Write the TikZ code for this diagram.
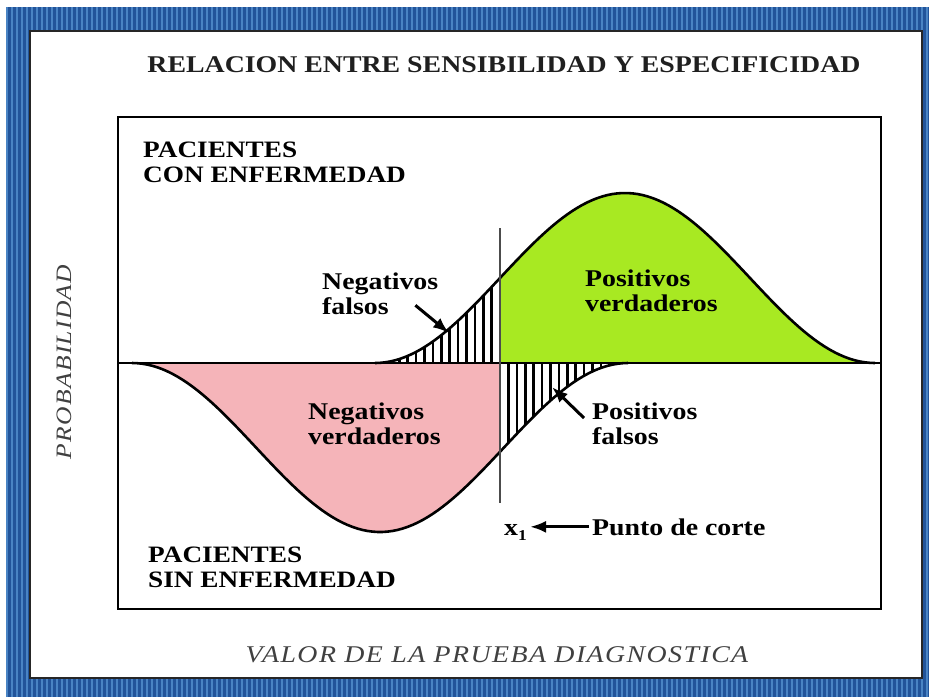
\documentclass[tikz,border=0pt]{standalone}
\usepackage{fontspec}
\setmainfont{Liberation Serif}
\newfontfamily\ancha[FakeStretch=1.16]{Liberation Serif}
\newfontfamily\espaciada[FakeStretch=1.16,LetterSpace=6]{Liberation Serif}
\usetikzlibrary{positioning, arrows.meta}

\definecolor{azul}{HTML}{22549A}
\definecolor{azulclaro}{HTML}{4A84C4}
\definecolor{verde}{HTML}{A8E922}
\definecolor{rosa}{HTML}{F5B4B9}

\begin{document}
\begin{tikzpicture}[x=1pt, y=-1pt,
    declare function={enf(\x)=363-85*(1+cos((\x-625)*0.72));
                      san(\x)=363+84.5*(1+cos((\x-380)*0.7258));},
    curva/.style={line width=2.6pt, black},
    rayas/.style={line width=2.6pt, black},
    flecha/.style={line width=3pt, -{Latex[length=16pt,width=12pt]}},
    etiqueta/.style={font=\ancha\bfseries\fontsize{24}{25}\selectfont, align=left, anchor=north west, inner sep=0pt},
    grupo/.style={font=\ancha\bfseries\fontsize{23.5}{24.5}\selectfont, align=left, anchor=north west, inner sep=0pt},
    rotulo/.style={font=\espaciada\itshape\fontsize{22}{24}\selectfont, text=black!75},
    titulo/.style={font=\ancha\bfseries\fontsize{24}{26}\selectfont, text=black!88}]
    \useasboundingbox (0,0) rectangle (929,697);
    % Marco azul rayado
    \fill[white] (0,0) rectangle (929,697);
    \fill[azul] (6,7) rectangle (929,697);
    \foreach \i in {0,...,184}{
        \fill[azulclaro] ({6+\i*5},7) rectangle ++(2.2,690);
      }
    \draw[line width=1.8pt, black!85, fill=white] (30,31) rectangle (922,678);

    \node[titulo] (titulo) at (504,65) {RELACION ENTRE SENSIBILIDAD Y ESPECIFICIDAD};

    % Areas
    \fill[verde] (500,363) -- plot[domain=500:875, samples=60] (\x,{enf(\x)}) -- cycle;
    \fill[rosa] (132,363) -- plot[domain=132:500, samples=80] (\x,{san(\x)}) -- (500,363) -- cycle;

    % Rayado de falsos
    \def\paso{8.4}
    \begin{scope}
        \clip (375,363) -- plot[domain=375:500, samples=40] (\x,{enf(\x)}) -- (500,363) -- cycle;
        \foreach \h in {1,...,15}{
            \draw[rayas] ({500-\h*\paso},150) -- ++(0,220);
          }
    \end{scope}
    \begin{scope}
        \clip (500,363) -- plot[domain=500:628, samples=40] (\x,{san(\x)}) -- cycle;
        \foreach \h in {1,...,15}{
            \draw[rayas] ({500+\h*\paso},355) -- ++(0,220);
          }
    \end{scope}

    % Curvas
    \draw[curva] plot[domain=375:875, samples=100] (\x,{enf(\x)});
    \draw[curva] plot[domain=132:628, samples=100] (\x,{san(\x)});
    \draw[curva] (118,363) -- (881,363);
    \draw[line width=2.6pt] (118,117) rectangle (881,609);
    % Punto de corte
    \draw[line width=1.8pt, black!70] (500,228) -- (500,503);

    % Etiquetas
    \node[grupo] (enf) at (143,142) {PACIENTES\\CON ENFERMEDAD};
    \node[grupo] (san) at (148,547) {PACIENTES\\SIN ENFERMEDAD};
    \node[etiqueta] (nf) at (322,273) {Negativos\\falsos};
    \node[etiqueta] (pv) at (585,270) {Positivos\\verdaderos};
    \node[etiqueta] (nv) at (308,403) {Negativos\\verdaderos};
    \node[etiqueta] (pf) at (592,403) {Positivos\\falsos};
    \node[font=\ancha\bfseries\fontsize{24}{25}\selectfont, inner sep=3pt, anchor=base west] (corte) at (589,535) {Punto de corte};
    \node[font=\ancha\bfseries\fontsize{24}{25}\selectfont, inner sep=3pt, base left=59pt of corte] (x1) {x\raisebox{-5pt}{\fontsize{15}{15}\selectfont 1}};

    \node[rotulo, rotate=90] (prob) at (64,362) {PROBABILIDAD};
    \node[rotulo, font=\espaciada\itshape\fontsize{24}{26}\selectfont] (valor) at (497,655) {VALOR DE LA PRUEBA DIAGNOSTICA};

    % Flechas
    \coordinate (pnf) at (449,333);
    \coordinate (ppf) at (552,387);
    \draw[flecha] (nf.south east) ++(-23,-10) -- (pnf);
    \draw[flecha] (pf.north west) ++(-8,15) -- (ppf);
    \draw[flecha] (corte.west) -- (corte.west -| x1.east);
  \end{tikzpicture}
\end{document}
